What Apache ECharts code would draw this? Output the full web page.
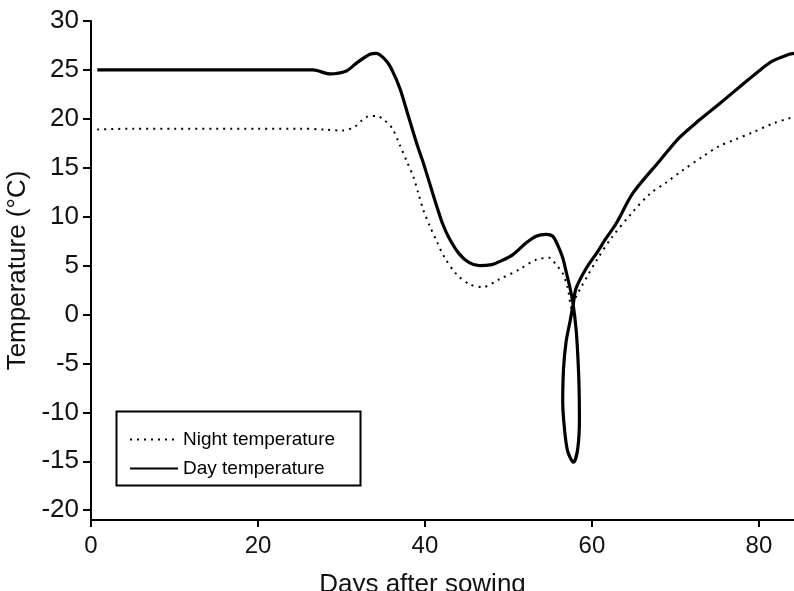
<!DOCTYPE html>
<html>
<head>
<meta charset="utf-8">
<script src="https://cdn.jsdelivr.net/npm/echarts@6/dist/echarts.min.js"></script>
<style>
html,body{margin:0;padding:0;background:#fff;}
#chart{width:794px;height:591px;}
</style>
</head>
<body>
<div id="chart"></div>
<script>
// Data (days after sowing, temperature °C)
var dayTemperature = [
  [0.75,25.0],[5,25.0],[10,25.0],[15,25.0],[20,25.0],[25,25.0],[26.6,25.0],[28.6,24.6],[30.6,24.9],
  [31.8,25.7],[33.4,26.6],[34.2,26.7],[35.4,25.9],[36.1,24.9],[37.0,23.1],[37.9,20.6],[39.0,17.5],
  [39.8,15.5],[40.6,13.3],[41.4,11.1],[42.1,9.3],[42.9,7.8],[44.1,6.2],[45.3,5.3],[46.5,5.0],
  [48.0,5.1],[48.9,5.4],[50.5,6.1],[52.1,7.3],[53.3,8.0],[54.5,8.2],[55.3,8.0],[55.9,7.1],
  [56.5,5.8],[56.9,4.4],[57.3,3.0],[57.7,1.3],[58.1,-1.5],[58.3,-4.1],[58.45,-7.2],[58.5,-10.6],
  [58.3,-13.7],[57.8,-15.1],[57.1,-14.0],[56.7,-11.6],[56.5,-8.9],[56.6,-5.5],[56.9,-2.8],
  [57.4,-0.6],[57.8,1.3],[58.1,2.7],[59.3,4.7],[60.5,6.2],[61.7,7.8],[62.9,9.3],[64.9,12.4],
  [68.1,15.7],[70.5,18.1],[72.9,19.9],[75.2,21.5],[77.6,23.2],[80.0,24.9],[81.6,25.9],[83.6,26.6],[84.2,26.7]
];
var nightTemperature = [
  [0.75,18.9],[5,19.0],[10,19.0],[15,19.0],[20,19.0],[25,19.0],[28,18.9],[30.1,18.8],[31.6,19.2],
  [32.4,19.8],[33.4,20.3],[34.2,20.3],[35.2,19.8],[36.1,19.0],[37.0,17.3],[37.8,15.7],[38.6,14.1],
  [39.2,12.4],[39.8,10.7],[40.6,9.0],[41.4,7.5],[42.3,5.9],[43.7,4.2],[45.3,3.1],[46.9,2.8],
  [48.9,3.6],[51.3,4.6],[53.3,5.6],[54.9,5.8],[55.7,5.1],[56.5,4.2],[57.1,2.7],[57.6,0.6],
  [58.1,1.8],[58.7,2.8],[59.5,4.0],[60.6,5.6],[62.3,7.8],[64.8,10.4],[66.9,12.3],[68.9,13.5],
  [70.8,14.7],[73.2,16.1],[75.2,17.2],[77.2,17.9],[79.2,18.6],[81.6,19.5],[83.8,20.1],[84.2,20.2]
];
var xTicks = [0,20,40,60,80];
var yTicks = [-20,-15,-10,-5,0,5,10,15,20,25,30];
var seriesNames = ['Night temperature','Day temperature'];

var chart = echarts.init(document.getElementById('chart'), null, {renderer:'canvas'});
var fontFam = '"Liberation Sans", Arial, sans-serif';
chart.setOption({
  animation:false,
  backgroundColor:'#fff',
  grid:{left:91,top:21,right:0,bottom:71,containLabel:false,outerBoundsMode:'none'},
  xAxis:{
    type:'value',min:0,max:84.2,
    name:'Days after sowing',nameLocation:'middle',nameGap:52,
    nameTextStyle:{fontFamily:fontFam,fontSize:26,color:'#111',padding:[0,40,0,0]},
    axisLine:{onZero:false,lineStyle:{color:'#000',width:2}},
    axisTick:{show:true,length:7,lineStyle:{color:'#000',width:2},customValues:xTicks},
    axisLabel:{fontFamily:fontFam,fontSize:24,color:'#111',margin:14,customValues:xTicks},
    splitLine:{show:false}
  },
  yAxis:{
    type:'value',min:-21,max:30,
    name:'Temperature (°C)',nameLocation:'middle',nameGap:55,nameRotate:90,
    nameTextStyle:{fontFamily:fontFam,fontSize:26,color:'#111'},
    axisLine:{onZero:false,lineStyle:{color:'#000',width:2}},
    axisTick:{show:true,length:8,lineStyle:{color:'#000',width:2},customValues:yTicks},
    axisLabel:{fontFamily:fontFam,fontSize:26,color:'#111',margin:12,customValues:yTicks},
    splitLine:{show:false}
  },
  graphic:[{type:'rect',left:114,top:409,shape:{width:244,height:74},
    style:{fill:'none',stroke:'#000',lineWidth:2},z:10}],
  legend:{
    orient:'vertical',left:124,top:425,itemWidth:48,itemHeight:14,itemGap:10,itemStyle:{opacity:0},
    textStyle:{fontFamily:fontFam,fontSize:19,color:'#000'},
    data:seriesNames
  },
  series:[
    {name:seriesNames[0],type:'line',data:nightTemperature,symbol:'none',smooth:0.3,
     lineStyle:{color:'#000',width:2,type:[2,5]},itemStyle:{color:'#000'}},
    {name:seriesNames[1],type:'line',data:dayTemperature,symbol:'none',smooth:0.3,
     lineStyle:{color:'#000',width:3.2},itemStyle:{color:'#000'}}
  ]
});
</script>
</body>
</html>
